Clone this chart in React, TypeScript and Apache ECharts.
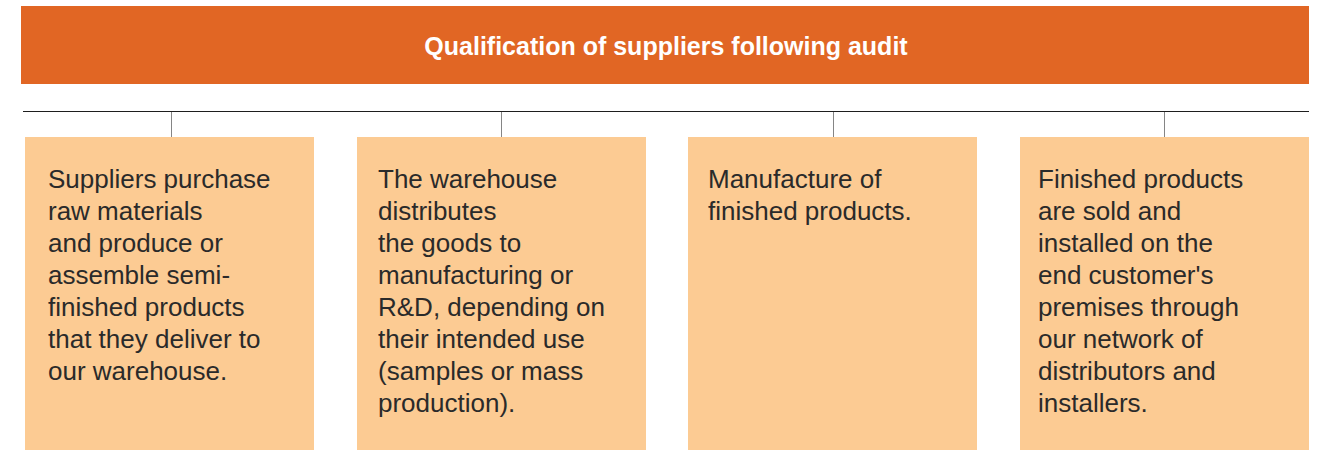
import React, { useEffect, useRef } from "react";
import * as echarts from "echarts";

const title = "Qualification of suppliers following audit";
const stepTexts = [
  "Suppliers purchase\nraw materials\nand produce or\nassemble semi-\nfinished products\nthat they deliver to\nour warehouse.",
  "The warehouse\ndistributes\nthe goods to\nmanufacturing or\nR&D, depending on\ntheir intended use\n(samples or mass\nproduction).",
  "Manufacture of\nfinished products.",
  "Finished products\nare sold and\ninstalled on the\nend customer's\npremises through\nour network of\ndistributors and\ninstallers.",
];
const boxLefts = [25, 357, 688, 1020];
const textLefts = [48, 378, 708, 1038];
const connectorXs = [171.5, 501.5, 833.5, 1164.5];

export default function App() {
  const ref = useRef<HTMLDivElement>(null);
  useEffect(() => {
    if (!ref.current) return;
    const chart = echarts.init(ref.current, null, { renderer: "svg" });
    const elements: any[] = [
      {
        type: "rect",
        shape: { x: 21, y: 6, width: 1288, height: 78 },
        style: { fill: "#E16624" },
      },
      {
        type: "text",
        x: 666,
        y: 46,
        style: {
          text: title,
          fill: "#ffffff",
          font: "bold 25px 'Liberation Sans', Arial, sans-serif",
          textAlign: "center",
          textVerticalAlign: "middle",
        },
      },
      {
        type: "line",
        shape: { x1: 23, y1: 111.5, x2: 1309, y2: 111.5 },
        style: { stroke: "#1e1e1e", lineWidth: 1.2 },
      },
    ];
    connectorXs.forEach((cx) => {
      elements.push({
        type: "line",
        shape: { x1: cx, y1: 112, x2: cx, y2: 137 },
        style: { stroke: "#858585", lineWidth: 1 },
      });
    });
    stepTexts.forEach((t, i) => {
      const bx = boxLefts[i];
      elements.push({
        type: "rect",
        shape: { x: bx, y: 137, width: 289, height: 320 },
        style: { fill: "#FCCB93" },
      });
      elements.push({
        type: "text",
        x: textLefts[i],
        y: 163,
        style: {
          text: t,
          fill: "#2a2a2a",
          font: "26px 'Liberation Sans', Arial, sans-serif",
          lineHeight: 32,
          textAlign: "left",
          textVerticalAlign: "top",
        },
      });
    });
    chart.setOption({
      animation: false,
      graphic: { elements },
    });
    return () => chart.dispose();
  }, []);
  return (
    <div
      ref={ref}
      style={{ position: "fixed", left: 0, top: 0, width: 1319, height: 450, background: "#ffffff" }}
    />
  );
}
